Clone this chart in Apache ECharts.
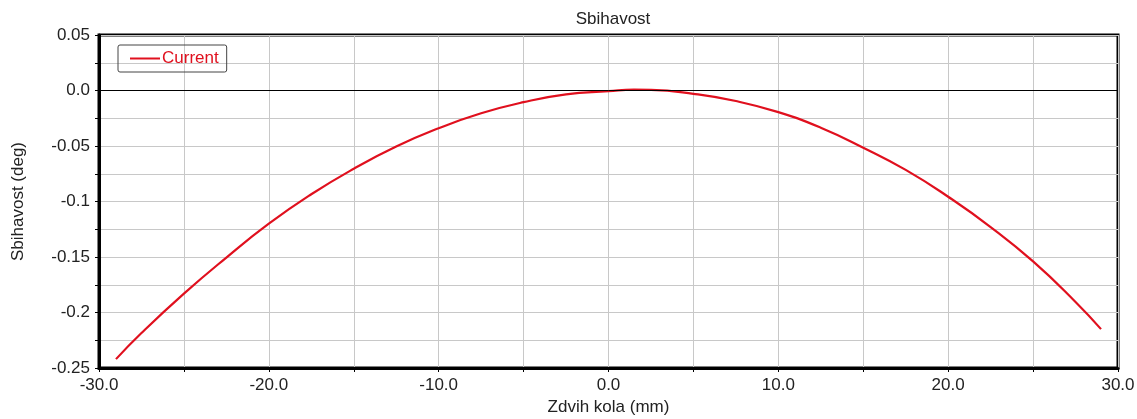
<!DOCTYPE html>
<html>
<head>
<meta charset="utf-8">
<script src="https://cdn.jsdelivr.net/npm/echarts@6/dist/echarts.min.js"></script>
<style>
  html, body { margin: 0; padding: 0; background: #fff; }
  #chart { width: 1137px; height: 419px; }
</style>
</head>
<body>
<div id="chart"></div>
<script>
var chart = echarts.init(document.getElementById('chart'));

// Zdvih kola (mm) vs Sbihavost (deg)
var travel = [-29, -27.5, -25, -22.5, -20, -17.5, -15, -12.5, -10, -7.5, -5, -2.5, 0, 1.5, 2.5, 5, 7.5, 10, 12.5, 15, 17.5, 20, 22.5, 25, 27.5, 29];
var toe = [-0.242, -0.2185, -0.183, -0.1505, -0.120, -0.0935, -0.0705, -0.0505, -0.034, -0.0205, -0.0105, -0.0035, -0.0006, 0.0008, 0.0006, -0.003, -0.0095, -0.0195, -0.0335, -0.0515, -0.0715, -0.0957, -0.123, -0.154, -0.1905, -0.215];

var seriesData = travel.map(function (x, i) { return [x, toe[i]]; });

var font = 'Liberation Sans, Arial, sans-serif';
var txt = '#222';

var option = {
    animation: false,
    title: {
        text: 'Sbihavost',
        left: 608,
        textAlign: 'center',
        top: 6,
        textStyle: { fontFamily: font, fontSize: 17, fontWeight: 'normal', color: txt }
    },
    legend: {
        left: 118,
        top: 45,
        data: ['Current'],
        itemWidth: 30,
        itemHeight: 2,
        itemGap: 4,
        padding: [5, 8, 5, 12],
        borderColor: '#444',
        borderWidth: 1,
        borderRadius: 2,
        icon: 'rect',
        textStyle: { fontFamily: font, fontSize: 17, color: '#e0101e', padding: [0, 0, 0, -3] }
    },
    grid: {
        left: 99,
        right: 19,
        top: 35,
        bottom: 51,
        containLabel: false,
        outerBoundsMode: 'none',
        show: true,
        borderColor: '#000',
        borderWidth: 3
    },
    xAxis: {
        type: 'value',
        min: -30,
        max: 30,
        interval: 10,
        name: 'Zdvih kola (mm)',
        nameLocation: 'middle',
        nameGap: 30,
        nameTextStyle: { fontFamily: font, fontSize: 17, color: txt },
        axisLine: { onZero: false, lineStyle: { color: '#000', width: 3 } },
        axisTick: { length: 4, lineStyle: { color: '#000', width: 1 } },
        minorTick: { show: true, splitNumber: 2, length: 4, lineStyle: { color: '#000', width: 1 } },
        axisLabel: {
            fontFamily: font, fontSize: 17, color: txt, margin: 9,
            formatter: function (v) { return v.toFixed(1); }
        },
        splitLine: { show: true, lineStyle: { color: '#c8c8c8', width: 1 } },
        minorSplitLine: { show: true, lineStyle: { color: '#c8c8c8', width: 1 } }
    },
    yAxis: {
        type: 'value',
        min: -0.25,
        max: 0.05,
        interval: 0.05,
        name: 'Sbihavost (deg)',
        nameLocation: 'middle',
        nameGap: 72,
        nameTextStyle: { fontFamily: font, fontSize: 17, color: txt },
        axisLine: { show: true, onZero: false, lineStyle: { color: '#000', width: 3 } },
        axisTick: { show: true, length: 4, lineStyle: { color: '#000', width: 1 } },
        minorTick: { show: true, splitNumber: 2, length: 4, lineStyle: { color: '#000', width: 1 } },
        axisLabel: {
            fontFamily: font, fontSize: 17, color: txt, margin: 9,
            formatter: function (v) {
                var r = Math.round(v * 100) / 100;
                return r === 0 ? '0.0' : String(r);
            }
        },
        splitLine: { show: true, lineStyle: { color: '#c8c8c8', width: 1 } },
        minorSplitLine: { show: true, lineStyle: { color: '#c8c8c8', width: 1 } }
    },
    series: [{
        name: 'Current',
        type: 'line',
        data: seriesData,
        smooth: 0.5,
        showSymbol: false,
        color: '#e0101e',
        lineStyle: { color: '#e0101e', width: 2.2 },
        markLine: {
            silent: true,
            symbol: 'none',
            label: { show: false },
            lineStyle: { color: '#000', width: 1, type: 'solid' },
            data: [{ yAxis: 0 }]
        },
        z: 3
    }]
};

chart.setOption(option);
</script>
</body>
</html>
